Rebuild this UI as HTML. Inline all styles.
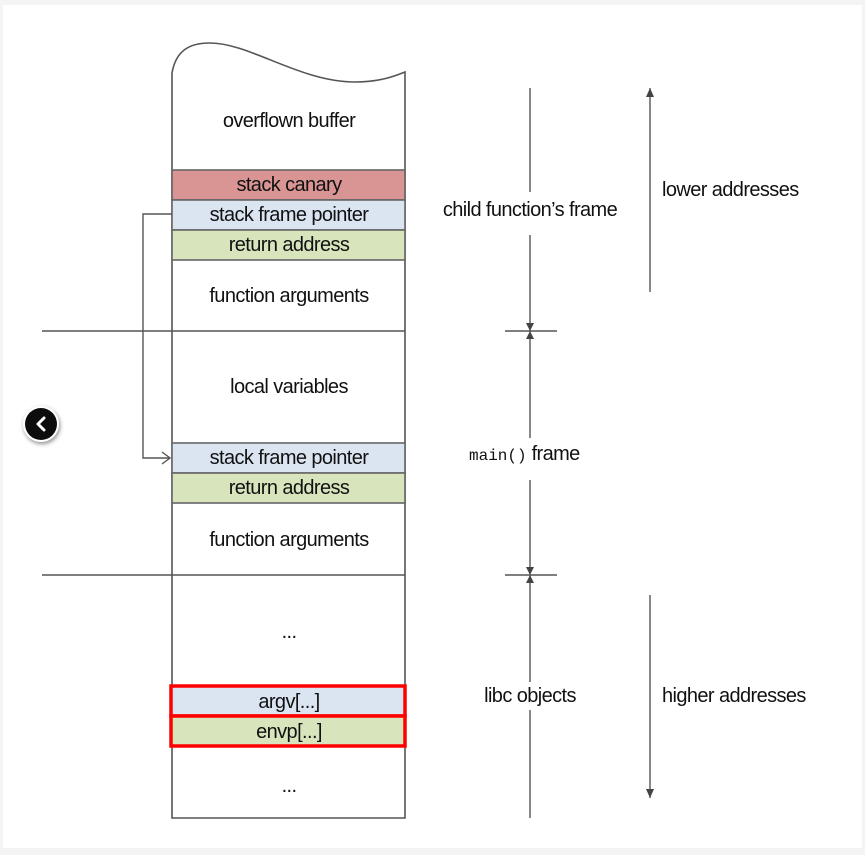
<!DOCTYPE html>
<html><head><meta charset="utf-8"><style>
html,body{margin:0;padding:0;background:#f4f4f4;}
svg{display:block;}
text{font-family:"Liberation Sans Narrow","Liberation Sans",sans-serif;font-size:20px;fill:#111;letter-spacing:-0.6px;}
</style></head><body>
<svg width="865" height="855" viewBox="0 0 865 855" xmlns="http://www.w3.org/2000/svg">
<defs>
<filter id="sh" x="-50%" y="-50%" width="200%" height="200%"><feDropShadow dx="1" dy="2" stdDeviation="2" flood-opacity="0.45"/></filter>
</defs>
<rect x="3" y="5" width="859" height="843" fill="#fff"/>
<g stroke="#555" stroke-width="1.6" fill="none">
<path d="M172,818 L172,73 C176,50 190,43 210,43 C250,43 300,82 355,82 C380,82 395,76 405,72 L405,818 Z" fill="#fff"/>
</g>
<rect x="172" y="170" width="233" height="30" fill="#d99594" stroke="#666" stroke-width="1.6"/>
<rect x="172" y="200" width="233" height="30" fill="#dbe5f1" stroke="#666" stroke-width="1.6"/>
<rect x="172" y="230" width="233" height="30" fill="#d7e4bc" stroke="#666" stroke-width="1.6"/>
<rect x="172" y="443" width="233" height="30" fill="#dbe5f1" stroke="#666" stroke-width="1.6"/>
<rect x="172" y="473" width="233" height="30" fill="#d7e4bc" stroke="#666" stroke-width="1.6"/>
<rect x="171" y="686" width="234" height="30" fill="#dbe5f1" stroke="#f00" stroke-width="3.5"/>
<rect x="171" y="716" width="234" height="30" fill="#d7e4bc" stroke="#f00" stroke-width="3.5"/>
<g stroke="#555" stroke-width="1.4" fill="none">
<line x1="42" y1="331" x2="405" y2="331"/>
<line x1="42" y1="575" x2="405" y2="575"/>
<line x1="505" y1="331" x2="557" y2="331"/>
<line x1="505" y1="575" x2="557" y2="575"/>
<polyline points="172,214 143,214 143,458 170,458"/>
<polyline points="162,452 170,458 162,464"/>
<line x1="530" y1="88" x2="530" y2="192"/>
<line x1="530" y1="235" x2="530" y2="331"/>
<line x1="530" y1="331" x2="530" y2="438"/>
<line x1="530" y1="480" x2="530" y2="575"/>
<line x1="530" y1="575" x2="530" y2="682"/>
<line x1="530" y1="710" x2="530" y2="818"/>
<line x1="650" y1="88" x2="650" y2="292"/>
<line x1="650" y1="595" x2="650" y2="798"/>
</g>
<g fill="#444">
<polygon points="526,323 530,331 534,323"/>
<polygon points="526,339 530,331 534,339"/>
<polygon points="526,567 530,575 534,567"/>
<polygon points="526,583 530,575 534,583"/>
<polygon points="646,97 650,88 654,97"/>
<polygon points="646,789 650,798 654,789"/>
</g>
<g text-anchor="middle">
<text x="289" y="127">overflown buffer</text>
<text x="289" y="191">stack canary</text>
<text x="289" y="221">stack frame pointer</text>
<text x="289" y="251">return address</text>
<text x="289" y="302">function arguments</text>
<text x="289" y="393">local variables</text>
<text x="289" y="464">stack frame pointer</text>
<text x="289" y="494">return address</text>
<text x="289" y="546">function arguments</text>
<text x="289" y="638">...</text>
<text x="289" y="708">argv[...]</text>
<text x="289" y="738">envp[...]</text>
<text x="289" y="792">...</text>
<text x="530" y="216">child function’s frame</text>
<text x="530" y="702">libc objects</text>
</g>
<text x="469" y="460"><tspan style="font-family:'Liberation Mono',monospace;font-size:16px;letter-spacing:0">main()</tspan> frame</text>
<text x="662" y="196">lower addresses</text>
<text x="662" y="702">higher addresses</text>
<g filter="url(#sh)">
<circle cx="41" cy="424" r="18" fill="#fff"/>
<circle cx="41" cy="424" r="16" fill="#111"/>
</g>
<polyline points="44,418 38,424 44,430" fill="none" stroke="#fff" stroke-width="3" stroke-linecap="round" stroke-linejoin="round"/>
</svg>
</body></html>
